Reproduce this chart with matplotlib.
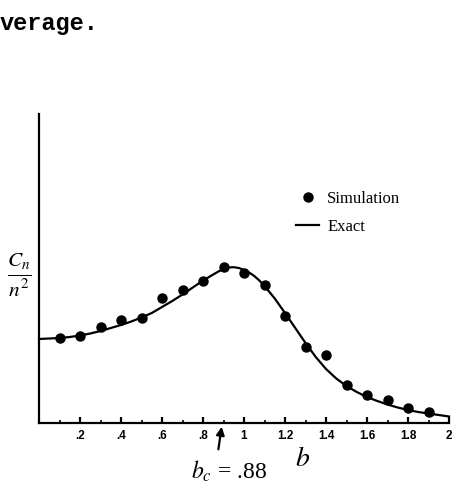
import numpy as np
import matplotlib
matplotlib.use("Agg")
import matplotlib.pyplot as plt

plt.rcParams['mathtext.fontset'] = 'stix'

# simulation points (b, Cn/n^2 in arbitrary units)
b_sim = [0.1, 0.2, 0.3, 0.4, 0.5, 0.6, 0.7, 0.8, 0.9, 1.0,
         1.1, 1.2, 1.3, 1.4, 1.5, 1.6, 1.7, 1.8, 1.9]
c_sim = [84.7, 87.3, 95.7, 103, 105, 125, 133, 142.3, 156.3, 150.3,
         137.7, 107.3, 76.3, 68, 38, 27.7, 22.7, 14.7, 11]

# exact curve
b_exact = [0.00, 0.05, 0.10, 0.15, 0.20, 0.25, 0.30, 0.35, 0.40, 0.45,
           0.50, 0.55, 0.60, 0.65, 0.70, 0.75, 0.80, 0.85, 0.875, 0.90,
           0.925, 0.95, 0.975, 1.00, 1.025, 1.05, 1.075, 1.10, 1.15, 1.20,
           1.25, 1.30, 1.35, 1.40, 1.45, 1.50, 1.55, 1.60, 1.65, 1.70,
           1.75, 1.80, 1.85, 1.90, 1.95, 2.00]
c_exact = [84, 84.5, 85, 86, 87.5, 89.5, 92, 95, 98, 101.5,
           105.5, 110, 116, 122, 128.5, 135.5, 142.5, 148.5, 151.5, 154,
           155.5, 155.8, 155, 153, 150.5, 147, 142.5, 137, 124.5, 110,
           95, 80, 66, 54, 44.5, 37, 31, 26, 22, 18.5,
           15.5, 13, 11, 9.5, 8, 6.5]

major_ticks = [0.2, 0.4, 0.6, 0.8, 1.0, 1.2, 1.4, 1.6, 1.8, 2.0]
major_labels = ['.2', '.4', '.6', '.8', '1', '1.2', '1.4', '1.6', '1.8', '2']
minor_ticks = [0.1, 0.3, 0.5, 0.7, 0.9, 1.1, 1.3, 1.5, 1.7, 1.9]
b_c = 0.88

fig = plt.figure(figsize=(4.53, 4.83), dpi=100)
ax = fig.add_axes([0.0861, 0.1242, 0.9051, 0.6398])

ax.plot(b_exact, c_exact, color='black', lw=1.6, label='Exact', clip_on=False)
ax.plot(b_sim, c_sim, 'o', color='black', ms=6.5, label='Simulation', clip_on=False)

ax.set_xlim(0, 2)
ax.set_ylim(0, 309)
ax.spines['top'].set_visible(False)
ax.spines['right'].set_visible(False)
ax.spines['left'].set_linewidth(1.6)
ax.spines['bottom'].set_linewidth(1.6)
ax.set_yticks([])
ax.set_xticks(major_ticks)
ax.set_xticklabels(major_labels, fontsize=8.5, fontweight='bold', family='Liberation Sans')
ax.set_xticks(minor_ticks, minor=True)
ax.tick_params(axis='x', which='major', direction='in', length=4, width=1.6, pad=5)
ax.tick_params(axis='x', which='minor', direction='in', length=2, width=1.2)

h, l = ax.get_legend_handles_labels()
ax.legend([h[1], h[0]], [l[1], l[0]], loc='upper left',
          bbox_to_anchor=(0.636, 0.622), bbox_transform=fig.transFigure,
          frameon=False, borderpad=0, handlelength=1.35, handletextpad=0.5,
          labelspacing=0.7, prop={'family': 'Liberation Serif', 'size': 12})

# b_c arrow and labels
ax.annotate('', xy=(b_c + 0.013, -0.003), xytext=(b_c - 0.007, -0.094),
            xycoords=('data', 'axes fraction'), textcoords=('data', 'axes fraction'),
            arrowprops=dict(arrowstyle='-|>', color='black', lw=1.6, mutation_scale=12))
fig.text(229 / 453, 1 - 471 / 483, r'$b_c$ = .88', fontsize=17,
         family='Liberation Serif', ha='center', va='center')
fig.text(303 / 453, 1 - 458 / 483, r'$b$', fontsize=20, ha='center', va='center')
fig.text(19 / 453, 1 - 275 / 483, r'$\frac{C_n}{n^2}$', fontsize=22,
         ha='center', va='center')

fig.text(0.0, 1 - 30 / 483, 'verage.', fontsize=17, family='Liberation Mono',
         fontweight='bold', ha='left', va='baseline')

plt.savefig('out.png', dpi=100)
